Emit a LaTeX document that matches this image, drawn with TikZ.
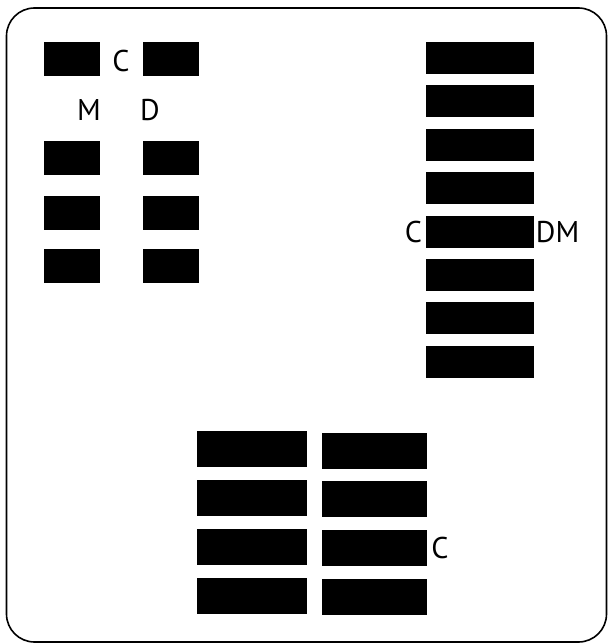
\documentclass[tikz,border=0pt]{standalone}
\usepackage{fontspec}
\setmainfont{PT Sans}
\usepackage{tikz}
\usetikzlibrary{positioning}

\begin{document}
\begin{tikzpicture}[
  x=1pt, y=-1pt,
  node distance=11pt,
  bar/.style={rectangle, fill=black, inner sep=0pt},
  smallbar/.style={bar, minimum width=56pt, minimum height=34pt},
  longbar/.style={bar, minimum width=108pt, minimum height=32pt},
  widebar/.style={bar, minimum width=108pt, minimum height=36pt},
  lbl/.style={font=\fontsize{30}{30}\selectfont, inner sep=0pt}
]
\useasboundingbox (0,0) rectangle (608,644);
\draw[line width=1.6pt, rounded corners=28pt] (6.5,8) rectangle (606.5,642);

% Left group
\node[smallbar] (ml1) at (72,59) {};
\node[smallbar] (dl1) at (170.5,59) {};
\node[smallbar, below=65pt of ml1] (ml2) {};
\node[smallbar, below=65pt of dl1] (dl2) {};
\node[smallbar, below=20pt of ml2] (ml3) {};
\node[smallbar, below=20pt of dl2] (dl3) {};
\node[smallbar, below=19pt of ml3] (ml4) {};
\node[smallbar, below=19pt of dl3] (dl4) {};

\node[lbl] (cl) at (121,61) {C};
\node[lbl] (ml) at (89,110) {M};
\node[lbl] (dl) at (150,110) {D};

% Right group
\node[longbar] (r1) at (479.5,58) {};
\node[longbar, below=of r1] (r2) {};
\node[longbar, below=of r2] (r3) {};
\node[longbar, below=of r3] (r4) {};
\node[longbar, below=of r4] (r5) {};
\node[longbar, below=of r5] (r6) {};
\node[longbar, below=of r6] (r7) {};
\node[longbar, below=of r7] (r8) {};

\node[lbl, left=3pt of r5] (cr) {C};
\node[lbl, right=2pt of r5] (dmr) {DM};

% Bottom group
\node[widebar, minimum width=110pt] (bl1) at (252,449) {};
\node[widebar, minimum width=105pt] (br1) at (374.5,450.5) {};
\node[widebar, minimum width=110pt, below=12.5pt of bl1] (bl2) {};
\node[widebar, minimum width=105pt, below=12.5pt of br1] (br2) {};
\node[widebar, minimum width=110pt, below=12.5pt of bl2] (bl3) {};
\node[widebar, minimum width=105pt, below=12.5pt of br2] (br3) {};
\node[widebar, minimum width=110pt, below=12.5pt of bl3] (bl4) {};
\node[widebar, minimum width=105pt, below=12.5pt of br3] (br4) {};

\node[lbl, right=4pt of br3] (cb) {C};
\end{tikzpicture}
\end{document}
